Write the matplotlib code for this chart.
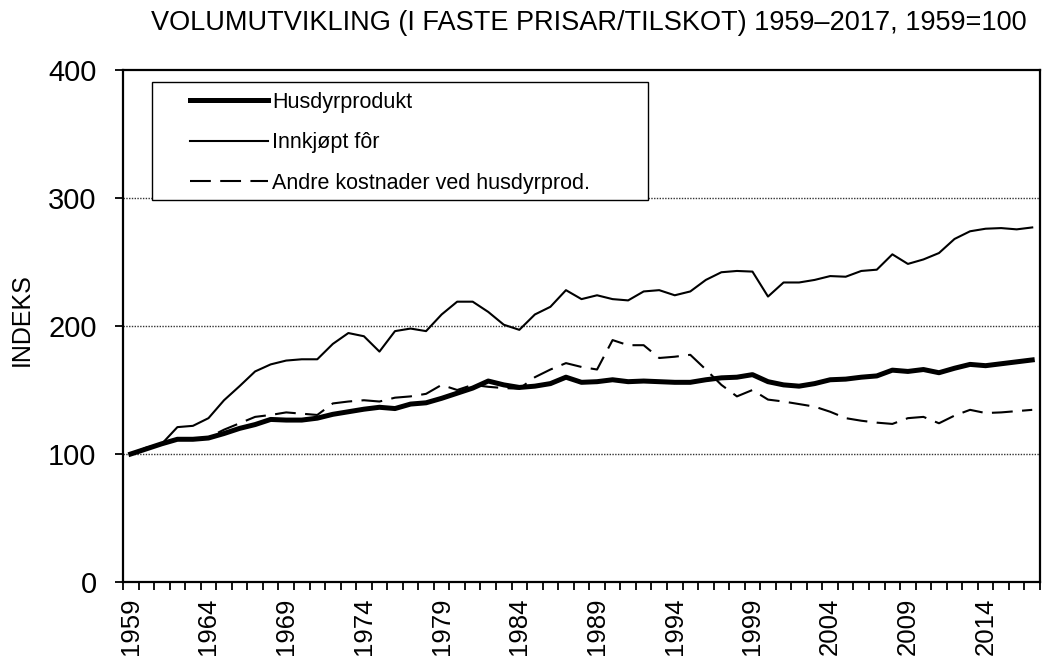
import matplotlib
matplotlib.use("Agg")
import matplotlib.pyplot as plt
from matplotlib.patches import Rectangle
import numpy as np

plt.rcParams['font.family'] = ['Liberation Sans', 'DejaVu Sans']

years = list(range(1959, 2018))

husdyrprodukt = [100, 104, 108, 111.5, 111.5, 112.5, 116, 120, 123, 127,
                 126.5, 126.5, 128, 131, 133, 135, 136.5, 135.5, 139, 140,
                 143.5, 147.5, 151.5, 157, 154, 152, 153, 155, 160, 156,
                 156.5, 158, 156.5, 157, 156.5, 156, 156, 158, 159.5, 160,
                 162, 156.5, 154, 153, 155, 158, 158.5, 160, 161, 165.5,
                 164.5, 166, 163.5, 167, 170, 169, 170.5, 172, 173.5]

innkjopt_for = [100, 105, 108, 121, 122, 128, 142, 153, 164.5, 170,
                173, 174, 174, 186, 194.5, 192, 180, 196, 198, 196,
                209, 219, 219, 211, 201, 197, 209, 215, 228, 221,
                224, 221, 220, 227, 228, 224, 227, 236, 242, 243,
                242.5, 223, 234, 234, 236, 239, 238.5, 243, 244, 256,
                248.5, 252, 257, 268, 274, 276, 276.5, 275.5, 277]

andre_kostnader = [100, 104, 108, 111, 112, 113, 119, 124, 129, 130.5,
                   132.5, 131.5, 130.5, 139.5, 141, 142, 141, 144, 145, 147,
                   154, 150, 154, 152.5, 151.5, 151, 160, 166, 171, 168,
                   166, 189, 185, 185, 175, 176, 177.5, 166, 154, 145,
                   150, 142.5, 141, 139, 137, 133, 128, 126, 124.5, 123.5,
                   128, 129, 124, 130, 134.5, 132, 132.5, 133.5, 134.5]

labels = ['Husdyrprodukt', 'Innkjøpt fôr', 'Andre kostnader ved husdyrprod.']
label_years = years[::5]

fig = plt.figure(figsize=(10.47, 6.6), dpi=100)
ax = fig.add_axes([123 / 1047, 1 - 582 / 660, 917 / 1047, 512 / 660])

l1, = ax.plot(years, husdyrprodukt, color='black', lw=3.6, solid_joinstyle='round', zorder=3)
l2, = ax.plot(years, innkjopt_for, color='black', lw=1.5, zorder=3)
l3, = ax.plot(years, andre_kostnader, color='black', lw=1.5, dashes=(10, 4.5), zorder=3)

ax.set_xlim(years[0] - 0.5, years[-1] + 0.5)
ax.set_ylim(0, 400)

# y axis
ax.set_yticks([0, 100, 200, 300, 400])
ax.tick_params(axis='y', direction='out', length=6, width=1.3, labelsize=21, pad=13)
for y in [100, 200, 300]:
    ax.axhline(y, color='#333333', lw=1.0, ls=(0, (1, 1)), zorder=1)

# x axis: tick marks between categories, labels under every 5th year
ax.set_xticks(np.arange(years[0] - 0.5, years[-1] + 1, 1.0))
ax.set_xticklabels([])
ax.tick_params(axis='x', which='major', direction='out', length=6, width=1.3)
ax.set_xticks(label_years, minor=True)
ax.set_xticklabels([str(y) for y in label_years], minor=True, rotation=90, fontsize=18.5)
ax.tick_params(axis='x', which='minor', length=0, pad=11)

for s in ax.spines.values():
    s.set_linewidth(1.6)

fig.text(589 / 1047, 1 - 23 / 660, 'VOLUMUTVIKLING (I FASTE PRISAR/TILSKOT) 1959–2017, 1959=100',
         ha='center', va='center', fontsize=19.5)
fig.text(22 / 1047, 1 - 320 / 660, 'INDEKS', rotation=90, ha='center', va='center', fontsize=18)

# legend box
ax.add_patch(Rectangle(((152 - 123) / 917, (582 - 200) / 512), (648 - 152) / 917, (200 - 82) / 512,
                       transform=ax.transAxes, facecolor='white', edgecolor='black', lw=1.0, zorder=4))
leg = ax.legend([l1, l2, l3], labels, loc='upper left',
                bbox_to_anchor=((190 - 123) / 917, (582 - 92) / 512),
                frameon=False, fontsize=15.5, handlelength=3.6, handletextpad=0.2,
                borderpad=0, borderaxespad=0, labelspacing=0.9)
leg.set_zorder(5)

fig.savefig('out.png', dpi=100)
